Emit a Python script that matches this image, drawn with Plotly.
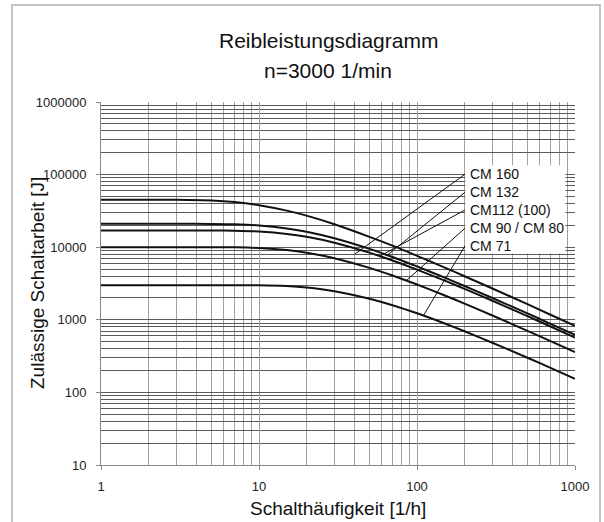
import numpy as np
import plotly.graph_objects as go

# Switching frequency [1/h]
freq = [1, 2, 3, 5, 7, 10, 15, 20, 30, 50, 70, 100, 150, 200, 300, 500, 700, 1000]

# Permissible switching energy [J] per brake size
cm160 = [45000, 45000, 44900, 43900, 41800, 37900, 31900, 27200, 20700, 13900, 10500, 7600, 5230, 3980, 2700, 1640, 1175, 826]
cm132 = [21000, 21000, 21000, 20950, 20710, 19960, 18160, 16310, 13270, 9475, 7320, 5440, 3805, 2925, 1998, 1223, 881, 621]
cm112 = [17000, 17000, 17000, 16980, 16870, 16440, 15250, 13910, 11550, 8406, 6557, 4913, 3458, 2666, 1828, 1121, 809, 570]
cm90 = [10000, 10000, 10000, 9993, 9946, 9742, 9126, 8393, 7044, 5187, 4068, 3062, 2163, 1671, 1147, 705, 509, 359]
cm71 = [3000, 3000, 3000, 3000, 2998, 2985, 2911, 2785, 2482, 1954, 1587, 1229, 889, 695, 483, 300, 218, 154]

series = [cm160, cm132, cm112, cm90, cm71]
names = ["CM 160", "CM 132", "CM112 (100)", "CM 90 / CM 80", "CM 71"]

# Leader line ends (frequency, energy)
leader_end_x = [40.5, 65, 58, 86, 110]
leader_end_y = [8050, 7800, 7500, 3500, 1150]
# Label anchor (frequency, energy)
label_x = 209
leader_start_x = 201
label_y = [101000, 57000, 32500, 18200, 10400]

fig = go.Figure()

for vals, name in zip(series, names):
    fig.add_trace(go.Scatter(x=freq, y=vals, mode="lines", name=name,
                             line=dict(color="#111111", width=2, shape="spline", smoothing=0.6),
                             hoverinfo="skip", showlegend=False))

# Leader lines from the label block to the curves
for ex, ey, ly in zip(leader_end_x, leader_end_y, label_y):
    fig.add_trace(go.Scatter(x=[leader_start_x, ex], y=[ly, ey], mode="lines",
                             line=dict(color="#111111", width=1),
                             hoverinfo="skip", showlegend=False))

# White block behind the labels (covers the grid only; no curve passes through it)
fig.add_shape(type="rect", xref="x", yref="y", x0=202, x1=870, y0=8200, y1=135000,
              fillcolor="white", line=dict(width=0), layer="above")

for name, ly in zip(names, label_y):
    fig.add_annotation(x=np.log10(label_x), y=np.log10(ly), xref="x", yref="y",
                       text=name, showarrow=False, xanchor="left", yanchor="middle",
                       font=dict(family="Liberation Sans, Arial", size=14, color="#111111"))

decades_x = [1, 10, 100, 1000]
decades_y = [10, 100, 1000, 10000, 100000, 1000000]
minor_x = [m * 10 ** k for k in range(0, 3) for m in range(2, 10)]
minor_y = [m * 10 ** k for k in range(1, 6) for m in range(2, 10)]

tick_font = dict(family="Liberation Sans, Arial", size=13, color="#222222")

fig.update_xaxes(type="log", range=[0, 3], tickmode="array", tickvals=decades_x,
                 ticktext=[str(v) for v in decades_x], tickfont=tick_font,
                 showgrid=True, gridcolor="#a0a0a0", gridwidth=1,
                 minor=dict(tickmode="array", tickvals=minor_x, showgrid=True,
                            gridcolor="#a0a0a0", gridwidth=1, ticks=""),
                 showline=True, linecolor="#888888", linewidth=1,
                 ticks="outside", ticklen=4, tickcolor="#888888",
                 ticklabelstandoff=5, zeroline=False)
fig.update_yaxes(type="log", range=[1, 6], tickmode="array", tickvals=decades_y,
                 ticktext=[str(v) for v in decades_y], tickfont=tick_font,
                 showgrid=True, gridcolor="#5a5a5a", gridwidth=1,
                 minor=dict(tickmode="array", tickvals=minor_y, showgrid=True,
                            gridcolor="#5a5a5a", gridwidth=1, ticks=""),
                 showline=True, linecolor="#888888", linewidth=1,
                 ticks="outside", ticklen=4, tickcolor="#888888",
                 ticklabelstandoff=7, zeroline=False)

# Outer frame
fig.add_shape(type="rect", xref="paper", yref="paper", x0=-0.1878, x1=1.0527,
              y0=-0.3, y1=1.267, line=dict(color="#c4c4c4", width=2), layer="above")

title_font = dict(family="Liberation Sans, Arial", size=21, color="#111111")
fig.add_annotation(x=0.479, y=1.1694, xref="paper", yref="paper", text="Reibleistungsdiagramm",
                   showarrow=False, xanchor="center", yanchor="middle", font=title_font)
fig.add_annotation(x=0.479, y=1.0854, xref="paper", yref="paper", text="n=3000 1/min",
                   showarrow=False, xanchor="center", yanchor="middle", font=title_font)

axis_font = dict(family="Liberation Sans, Arial", size=19, color="#111111")
fig.add_annotation(x=0.5, y=-0.1185, xref="paper", yref="paper", text="Schalthäufigkeit [1/h]",
                   showarrow=False, xanchor="center", yanchor="middle", font=axis_font)
fig.add_annotation(x=-0.1329, y=0.5014, xref="paper", yref="paper", text="Zulässige Schaltarbeit [J]",
                   showarrow=False, xanchor="center", yanchor="middle", textangle=-90, font=axis_font)

fig.update_layout(width=604, height=522, margin=dict(l=101, r=29, t=102, b=57),
                  paper_bgcolor="white", plot_bgcolor="white", showlegend=False)

fig.write_html("out.html")
